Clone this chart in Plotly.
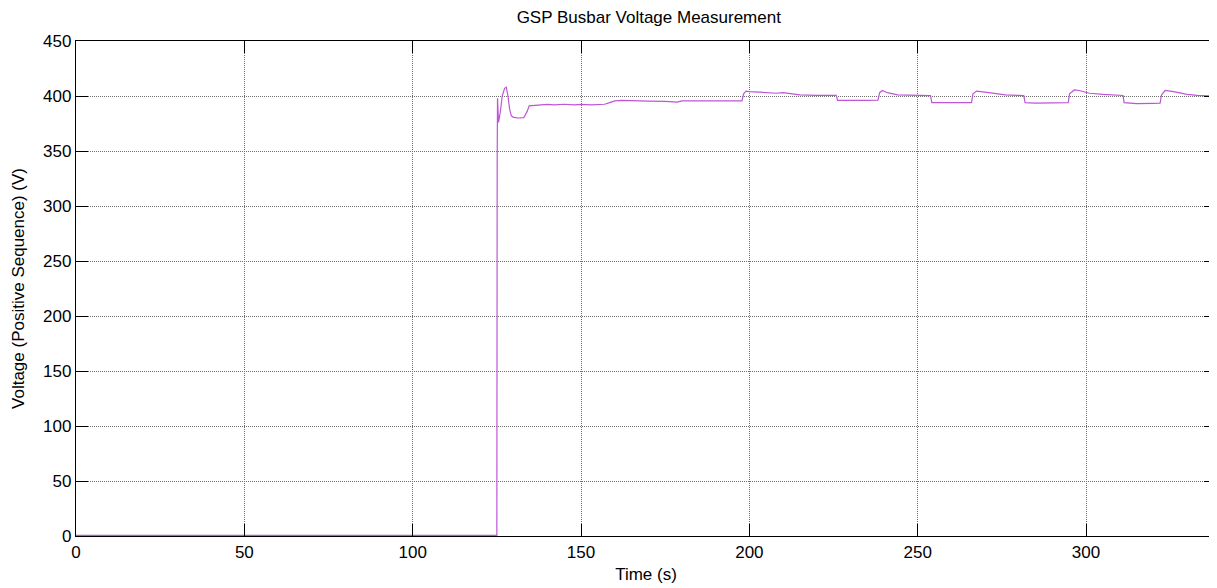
import plotly.graph_objects as go

time_s = [0, 125.0, 125.1, 125.2, 125.5, 126.0, 126.6, 127.3, 127.8, 128.3, 128.8, 129.3,
          130.0, 131.5, 133.0, 134.0, 134.6, 136, 138, 140, 142, 145, 148, 150, 153, 155,
          157, 158.5, 160, 162, 165, 170, 175, 178.5, 180, 185, 190, 195, 197.8,
          198.3, 199, 200, 203, 206, 208, 210, 212, 215, 220, 225.8,
          226.2, 230, 235, 238.2, 238.7, 239.5, 241, 244, 248, 253.8,
          254.2, 258, 262, 266.0, 266.4, 267.5, 270, 273, 276, 280, 281.5,
          281.9, 285, 290, 294.7, 295.1, 296.5, 298, 301, 305, 308, 311,
          311.3, 315, 320, 322, 322.4, 323.5, 326, 330, 333, 338.6]
voltage_v = [0.5, 0.5, 345, 398, 376, 385, 400, 407, 408, 400, 388, 382,
             380.5, 380, 380.3, 386, 391, 391.5, 392, 392.3, 392, 392.5, 392, 392.3, 392, 392.5,
             392.5, 394, 395.5, 396, 395.5, 395.3, 395.2, 394.5, 395.5, 395.3, 395.2, 395.5, 395.5,
             402, 404.5, 404, 403.5, 403, 402.5, 403, 402, 401, 400.5, 400.5,
             396, 395.8, 396, 396.2, 403, 405, 403, 401, 400.5, 400.3,
             394, 393.8, 394, 394, 402, 404.5, 403.5, 402.5, 401, 400.5, 400.3,
             394, 393.5, 393.8, 394, 402, 405.5, 405, 402.5, 401.5, 401, 400.5,
             394, 393, 393.3, 393.5, 401, 405, 404, 401.5, 400.5, 400]

x_ticks = [0, 50, 100, 150, 200, 250, 300]
y_ticks = [0, 50, 100, 150, 200, 250, 300, 350, 400, 450]

font_family = "Arial, Liberation Sans, sans-serif"

fig = go.Figure()
fig.add_trace(go.Scatter(x=time_s, y=voltage_v, mode="lines",
                         line=dict(color="rgb(190,85,215)", width=1.2),
                         showlegend=False))

axis_common = dict(showline=True, linecolor="black", linewidth=1.3, mirror="ticks",
                   ticks="inside", ticklen=12, tickcolor="black", tickwidth=1,
                   showgrid=True, gridcolor="rgb(110,110,110)", griddash="1px,1px", gridwidth=1,
                   zeroline=False, tickfont=dict(family=font_family, size=17, color="black"))

fig.update_xaxes(range=[0, 338.6], tickvals=x_ticks,
                 title=dict(text="Time (s)", font=dict(family=font_family, size=17, color="black"),
                            standoff=7),
                 **axis_common)
fig.update_yaxes(range=[0, 450], tickvals=y_ticks,
                 title=dict(text="Voltage (Positive Sequence) (V)",
                            font=dict(family=font_family, size=17, color="black"), standoff=14),
                 automargin=False, **axis_common)

fig.update_layout(
    width=1209, height=580,
    margin=dict(l=68, r=1, t=33, b=52, autoexpand=False),
    paper_bgcolor="white", plot_bgcolor="white",
    title=dict(text="GSP Busbar Voltage Measurement", x=0.53, xanchor="center",
               y=0.985, yanchor="middle",
               font=dict(family=font_family, size=17, color="black")),
)

fig.write_html("out.html")
